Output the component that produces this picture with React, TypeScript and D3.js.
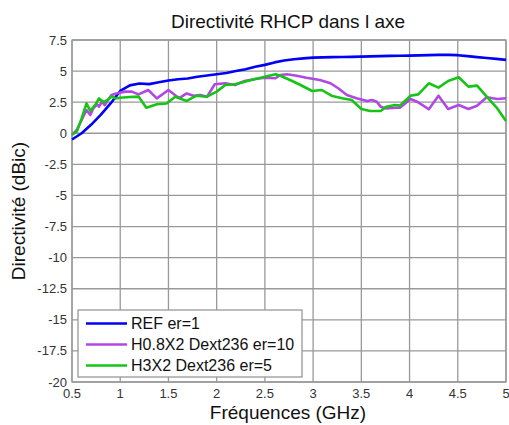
import React from "react";
import * as d3 from "d3";

const xTicks = [0.5, 1, 1.5, 2, 2.5, 3, 3.5, 4, 4.5, 5];
const yTicks = [7.5, 5, 2.5, 0, -2.5, -5, -7.5, -10, -12.5, -15, -17.5, -20];

const refFreq = [0.5,0.6,0.7,0.8,0.9,1.0,1.1,1.2,1.3,1.4,1.5,1.6,1.7,1.8,1.9,2.0,2.1,2.2,2.3,2.4,2.5,2.6,2.7,2.8,2.9,3.0,3.1,3.2,3.3,3.4,3.5,3.6,3.7,3.8,3.9,4.0,4.1,4.2,4.3,4.4,4.5,4.6,4.7,4.8,4.9,5.0];
const refVal = [-0.5,0.0,0.7,1.5,2.4,3.4,3.85,4.0,3.95,4.1,4.25,4.35,4.4,4.55,4.65,4.75,4.85,5.0,5.15,5.35,5.5,5.7,5.85,5.95,6.02,6.08,6.1,6.12,6.13,6.14,6.16,6.18,6.2,6.22,6.23,6.24,6.26,6.28,6.3,6.3,6.28,6.2,6.12,6.05,5.98,5.9];

const h08Freq = [0.5,0.55,0.6,0.65,0.69,0.72,0.76,0.78,0.81,0.84,0.88,0.91,0.96,1.05,1.12,1.19,1.29,1.38,1.5,1.59,1.62,1.69,1.76,1.83,1.9,1.98,2.09,2.19,2.29,2.4,2.5,2.61,2.66,2.73,2.83,2.93,3.07,3.18,3.26,3.35,3.45,3.56,3.61,3.66,3.7,3.76,3.85,3.9,4.01,4.09,4.2,4.3,4.4,4.51,4.61,4.7,4.8,4.91,5.0];
const h08Val = [-0.13,0.27,1.07,1.87,1.47,2.0,2.33,2.14,2.54,2.27,2.76,3.08,3.2,3.35,3.35,3.13,3.48,2.81,3.48,2.94,2.86,3.2,3.02,3.08,2.94,3.94,4.02,3.88,4.2,4.37,4.47,4.42,4.69,4.74,4.63,4.47,4.28,4.02,3.62,3.08,2.81,2.6,2.68,2.54,2.14,2.0,2.05,2.06,2.76,2.49,1.93,3.02,1.95,2.27,1.95,2.22,2.89,2.76,2.81];

const h3Freq = [0.5,0.55,0.6,0.65,0.69,0.74,0.78,0.83,0.87,0.91,0.95,1.0,1.1,1.19,1.27,1.38,1.48,1.57,1.69,1.79,1.9,2.0,2.09,2.19,2.29,2.4,2.5,2.61,2.66,2.76,2.87,2.99,3.09,3.19,3.3,3.4,3.5,3.59,3.7,3.76,3.85,3.9,4.01,4.09,4.2,4.3,4.4,4.51,4.61,4.7,4.8,4.91,5.0];
const h3Val = [-0.1,0.13,1.2,2.4,1.8,2.27,2.8,2.5,2.68,2.95,2.8,2.86,2.92,2.95,2.06,2.33,2.4,2.94,2.6,3.02,2.94,3.35,3.88,3.94,4.15,4.37,4.55,4.74,4.63,4.28,3.88,3.4,3.48,3.02,2.81,2.68,1.95,1.79,1.79,2.14,2.27,2.22,3.02,3.13,4.02,3.67,4.2,4.5,3.75,3.83,2.94,2.0,0.99];

const seriesNames = ["REF er=1", "H0.8X2 Dext236 er=10", "H3X2 Dext236 er=5"];
const seriesColors = ["#0000f5", "#b148e3", "#16c416"];

const W = 509, H = 425;
const L = 72, R = 506, T = 40, B = 382;

export default function App() {
  const x = d3.scaleLinear().domain([0.5, 5]).range([L, R]);
  const y = d3.scaleLinear().domain([-20, 7.5]).range([B, T]);
  const line = d3.line<[number, number]>().x(d => x(d[0])).y(d => y(d[1]));
  const series: [number, number][][] = [
    refFreq.map((f, i) => [f, refVal[i]]),
    h08Freq.map((f, i) => [f, h08Val[i]]),
    h3Freq.map((f, i) => [f, h3Val[i]]),
  ];
  const font = "Liberation Sans, Arial, sans-serif";
  return (
    <svg width={W} height={H} style={{ position: "absolute", left: 0, top: 0, background: "#fff" }} fontFamily={font}>
      <rect x={0} y={0} width={W} height={H} fill="#fff" />
      <text x={288} y={28} textAnchor="middle" fontSize={19} fill="#111">Directivité RHCP dans l axe</text>
      {xTicks.map(t => (
        <line key={"gx" + t} x1={x(t)} x2={x(t)} y1={T} y2={B} stroke="#999" strokeWidth={1.3} />
      ))}
      {yTicks.map(t => (
        <line key={"gy" + t} x1={L} x2={R} y1={y(t)} y2={y(t)} stroke="#999" strokeWidth={1.3} />
      ))}
      <rect x={L} y={T} width={R - L} height={B - T} fill="none" stroke="#999" strokeWidth={1.3} />
      {xTicks.map(t => (
        <text key={"tx" + t} x={x(t)} y={398} textAnchor="middle" fontSize={13} fill="#333">{String(t)}</text>
      ))}
      {yTicks.map(t => (
        <text key={"ty" + t} x={67} y={y(t) + 4.5} textAnchor="end" fontSize={13} fill="#333">{String(t)}</text>
      ))}
      <text x={288} y={419} textAnchor="middle" fontSize={19} fill="#111">Fréquences (GHz)</text>
      <text transform={`translate(25,${(T + B) / 2}) rotate(-90)`} textAnchor="middle" fontSize={19} fill="#111">Directivité (dBic)</text>
      {series.map((s, i) => (
        <path key={"s" + i} d={line(s) || ""} fill="none" stroke={seriesColors[i]} strokeWidth={2.6} strokeLinejoin="round" />
      ))}
      <g>
        <rect x={78} y={310} width={224} height={67} fill="#fff" stroke="#999" strokeWidth={1.3} />
        {seriesNames.map((n, i) => (
          <g key={"lg" + i}>
            <line x1={86} x2={127} y1={323.5 + i * 21} y2={323.5 + i * 21} stroke={seriesColors[i]} strokeWidth={2.6} />
            <text x={131} y={329 + i * 21} fontSize={16} fill="#111">{n}</text>
          </g>
        ))}
      </g>
    </svg>
  );
}
